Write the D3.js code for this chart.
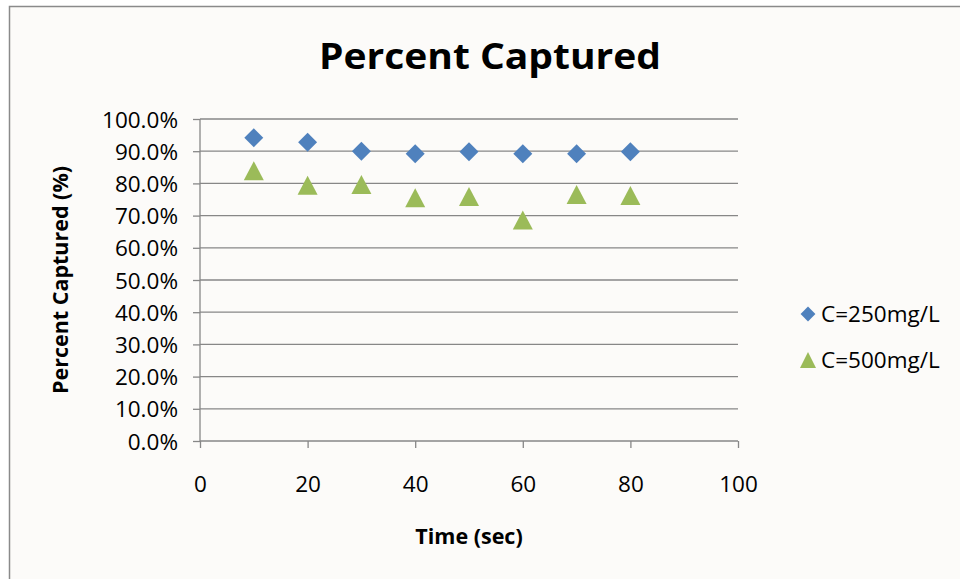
<!DOCTYPE html>
<html><head><meta charset="utf-8">
<script src="https://cdn.jsdelivr.net/npm/d3@7"></script>
<style>html,body{margin:0;padding:0;background:#fff;}svg{display:block;}</style>
</head><body>
<script>
const times = [10, 20, 30, 40, 50, 60, 70, 80];
const c250 = [0.942, 0.928, 0.900, 0.892, 0.898, 0.892, 0.892, 0.898];
const c500 = [0.838, 0.793, 0.795, 0.754, 0.758, 0.685, 0.764, 0.761];
const seriesNames = ["C=250mg/L", "C=500mg/L"];
const yTicks = [0, 0.1, 0.2, 0.3, 0.4, 0.5, 0.6, 0.7, 0.8, 0.9, 1.0];
const xTicks = [0, 20, 40, 60, 80, 100];

const W = 960, H = 579;
const FONT = "'Open Sans', sans-serif";
const svg = d3.select("body").append("svg").attr("width", W).attr("height", H);
svg.append("rect").attr("width", W).attr("height", H).attr("fill", "#fff");
svg.append("rect").attr("x", 9.5).attr("y", 6.5).attr("width", W + 20).attr("height", H + 20)
  .attr("fill", "#fcfbf9").attr("stroke", "#8a8a8a").attr("stroke-width", 1.5);

const x = d3.scaleLinear().domain([0, 100]).range([200, 738]);
const y = d3.scaleLinear().domain([0, 1]).range([441, 119]);

// gridlines
svg.append("g").selectAll("line").data(yTicks.slice(1)).join("line")
  .attr("x1", x(0)).attr("x2", x(100)).attr("y1", d => y(d)).attr("y2", d => y(d))
  .attr("stroke", "#878787").attr("stroke-width", 1.3);

const yAxis = svg.append("g").attr("transform", `translate(${x(0)},0)`)
  .call(d3.axisLeft(y).tickValues(yTicks).tickFormat(d3.format(".1%")).tickSize(7).tickPadding(15));
const xAxis = svg.append("g").attr("transform", `translate(0,${y(0)})`)
  .call(d3.axisBottom(x).tickValues(xTicks).tickSize(7).tickPadding(28));
[yAxis, xAxis].forEach(g => {
  g.select(".domain").attr("stroke", "#878787").attr("stroke-width", 1.3);
  g.selectAll(".tick line").attr("stroke", "#878787").attr("stroke-width", 1.3);
  g.selectAll("text").attr("font-family", FONT).attr("font-size", 22.5).attr("fill", "#000");
});
yAxis.select(".domain").attr("d", `M0,${y(0)}V${y(1)}`);
yAxis.selectAll(".tick text").attr("dy", "0.36em");
xAxis.select(".domain").attr("d", `M${x(0)},0H${x(100)}`);

// title
svg.append("text").attr("x", 490).attr("y", 69).attr("text-anchor", "middle")
  .attr("font-family", FONT).attr("font-weight", "bold").attr("font-size", 35)
  .attr("textLength", 342).attr("lengthAdjust", "spacingAndGlyphs").text("Percent Captured");
svg.append("text").attr("x", 469).attr("y", 544).attr("text-anchor", "middle")
  .attr("font-family", FONT).attr("font-weight", "bold").attr("font-size", 21.5).text("Time (sec)");
svg.append("text").attr("transform", "translate(68,280) rotate(-90)").attr("text-anchor", "middle")
  .attr("font-family", FONT).attr("font-weight", "bold").attr("font-size", 21.5).text("Percent Captured (%)");

const diamond = d3.symbol().type(d3.symbolSquare).size(180)();
const tri = "M0,-10L10,9L-10,9Z";

svg.append("g").selectAll("path").data(times).join("path")
  .attr("d", diamond).attr("fill", "#4f81bd")
  .attr("transform", (d, i) => `translate(${x(d)},${y(c250[i])}) rotate(45)`);
svg.append("g").selectAll("path").data(times).join("path")
  .attr("d", tri).attr("fill", "#9bbb59")
  .attr("transform", (d, i) => `translate(${x(d)},${y(c500[i])})`);

// legend
const leg = svg.append("g");
leg.append("path").attr("d", d3.symbol().type(d3.symbolSquare).size(110)())
  .attr("fill", "#4f81bd").attr("transform", "translate(808,314) rotate(45)");
leg.append("path").attr("d", "M0,-8L8,8L-8,8Z").attr("fill", "#9bbb59").attr("transform", "translate(808,360)");
leg.selectAll("text").data(seriesNames).join("text")
  .attr("x", 821).attr("y", (d, i) => 314 + i * 46).attr("dy", "0.36em")
  .attr("font-family", FONT).attr("font-size", 22.5).text(d => d);
</script>
</body></html>
